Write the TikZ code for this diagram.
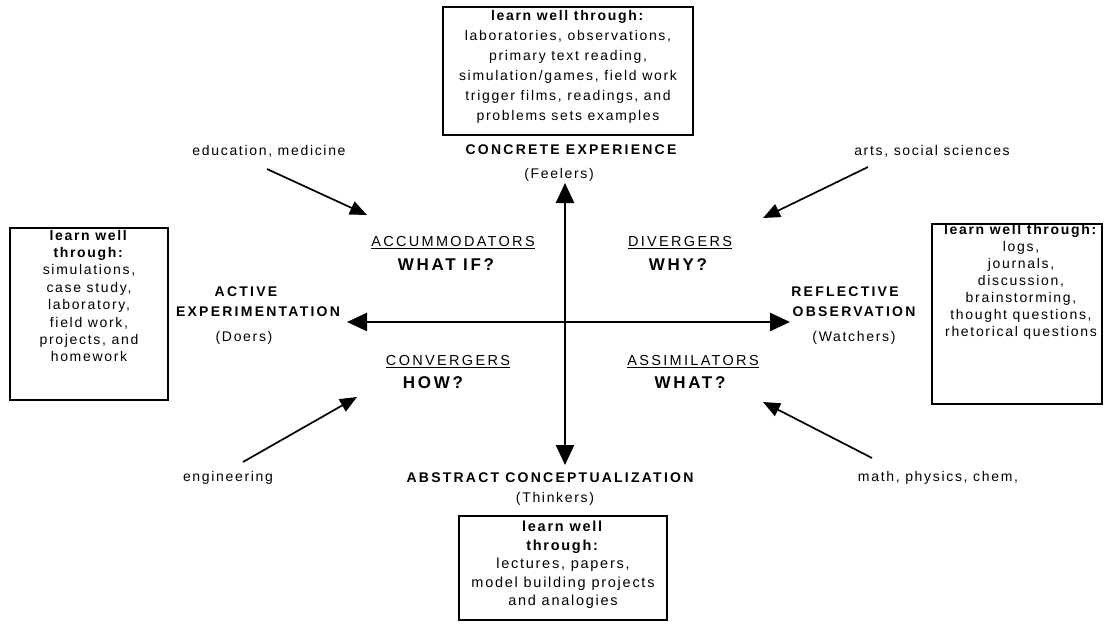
\documentclass[tikz,border=0pt]{standalone}
\usepackage{fontspec}
\setmainfont{Liberation Sans}[LetterSpace=12]
\newfontfamily\capsfont{Liberation Sans}[LetterSpace=16]
\usetikzlibrary{arrows.meta}

\begin{document}
\begin{tikzpicture}[x=1pt, y=-1pt,
  every node/.style={inner sep=0pt, outer sep=0pt},
  frame/.style={draw, line width=1.3pt},
  boxtext/.style={align=center, font=\fontsize{14}{#1}\selectfont},
  boxtext/.default=17.4,
  mode/.style={font=\capsfont\bfseries\fontsize{14}{17}\selectfont},
  role/.style={font=\fontsize{14}{17}\selectfont},
  quad/.style={font=\capsfont\fontsize{14.5}{17}\selectfont},
  quest/.style={font=\capsfont\bfseries\fontsize{17}{20}\selectfont},
  field/.style={font=\fontsize{14}{17}\selectfont},
  axis/.style={line width=2.4pt, {Triangle[length=20pt,width=18pt]}-{Triangle[length=20pt,width=18pt]}},
  pointer/.style={line width=1.7pt, -{Triangle[length=17pt,width=14pt]}}]

\useasboundingbox (0,0) rectangle (1104,626);

% ---- boxes with preferred learning activities ----
\node[frame, minimum width=250pt, minimum height=128pt] (ce-box) at (568,71) {};
\node[boxtext=20] (ce-text) at (568,67) {\textbf{learn well through:}\\
  laboratories, observations,\\ primary text reading,\\
  simulation/games, field work\\ trigger films, readings, and\\
  problems sets examples};

\node[frame, minimum width=158pt, minimum height=172pt] (ae-box) at (89,314) {};
\node[boxtext] (ae-text) at (89,296) {\textbf{learn well}\\ \textbf{through:}\\
  simulations,\\ case study,\\ laboratory,\\ field work,\\
  projects, and\\ homework};

\node[frame, minimum width=170pt, minimum height=180pt] (ro-box) at (1017,314) {};
\node[boxtext=17] (ro-text) at (1021,282) {\textbf{learn well through:}\\
  logs,\\ journals,\\ discussion,\\ brainstorming,\\
  thought questions,\\ rhetorical questions};

\node[frame, minimum width=208pt, minimum height=104pt] (ac-box) at (563,568) {};
\node[boxtext=18.5, font=\fontsize{14.5}{18.5}\selectfont] (ac-text) at (563,565) {\textbf{learn well}\\ \textbf{through:}\\
  lectures, papers,\\ model building projects\\ and analogies};

% ---- learning modes ----
\node[mode] (ce) at (571,150) {CONCRETE EXPERIENCE};
\node[role] (feelers) at (559,175) {(Feelers)};

\node[mode] (ae1) at (246,292) {ACTIVE};
\node[mode] (ae2) at (258,312) {EXPERIMENTATION};
\node[role] (doers) at (244,338) {(Doers)};

\node[mode] (ro1) at (845,292) {REFLECTIVE};
\node[mode] (ro2) at (854,312) {OBSERVATION};
\node[role] (watchers) at (854,338) {(Watchers)};

\node[mode] (ac) at (550,478) {ABSTRACT CONCEPTUALIZATION};
\node[role] (thinkers) at (555,499) {(Thinkers)};

% ---- learning styles in the quadrants ----
\node[quad] (acc) at (453,243) {\underline{ACCUMMODATORS}};
\node[quest] (acc-q) at (446,265) {WHAT IF?};
\node[quad] (div) at (680,243) {\underline{DIVERGERS}};
\node[quest] (div-q) at (678,265) {WHY?};
\node[quad] (con) at (448,362) {\underline{CONVERGERS}};
\node[quest] (con-q) at (433,383) {HOW?};
\node[quad] (ass) at (693,362) {\underline{ASSIMILATORS}};
\node[quest] (ass-q) at (690,383) {WHAT?};

% ---- fields of study ----
\node[field] (edu) at (269,151) {education, medicine};
\node[field] (arts) at (932,151) {arts, social sciences};
\node[field] (eng) at (228,478) {engineering};
\node[field] (sci) at (938,478) {math, physics, chem,};

% ---- axes ----
\coordinate (v-top) at (565,183);
\coordinate (v-bot) at (565,465);
\coordinate (h-left) at (347,322);
\coordinate (h-right) at (790,322);
\draw[axis] (v-top) -- (v-bot);
\draw[axis] (h-left) -- (h-right);

% ---- pointers from fields to styles ----
\coordinate (edu-s) at (267,169);
\coordinate (edu-t) at (367,215);
\coordinate (arts-s) at (868,167);
\coordinate (arts-t) at (763,218);
\coordinate (eng-s) at (243,462);
\coordinate (eng-t) at (357,397);
\coordinate (sci-s) at (872,458);
\coordinate (sci-t) at (763,402);
\draw[pointer] (edu-s) -- (edu-t);
\draw[pointer] (arts-s) -- (arts-t);
\draw[pointer] (eng-s) -- (eng-t);
\draw[pointer] (sci-s) -- (sci-t);
\end{tikzpicture}
\end{document}
